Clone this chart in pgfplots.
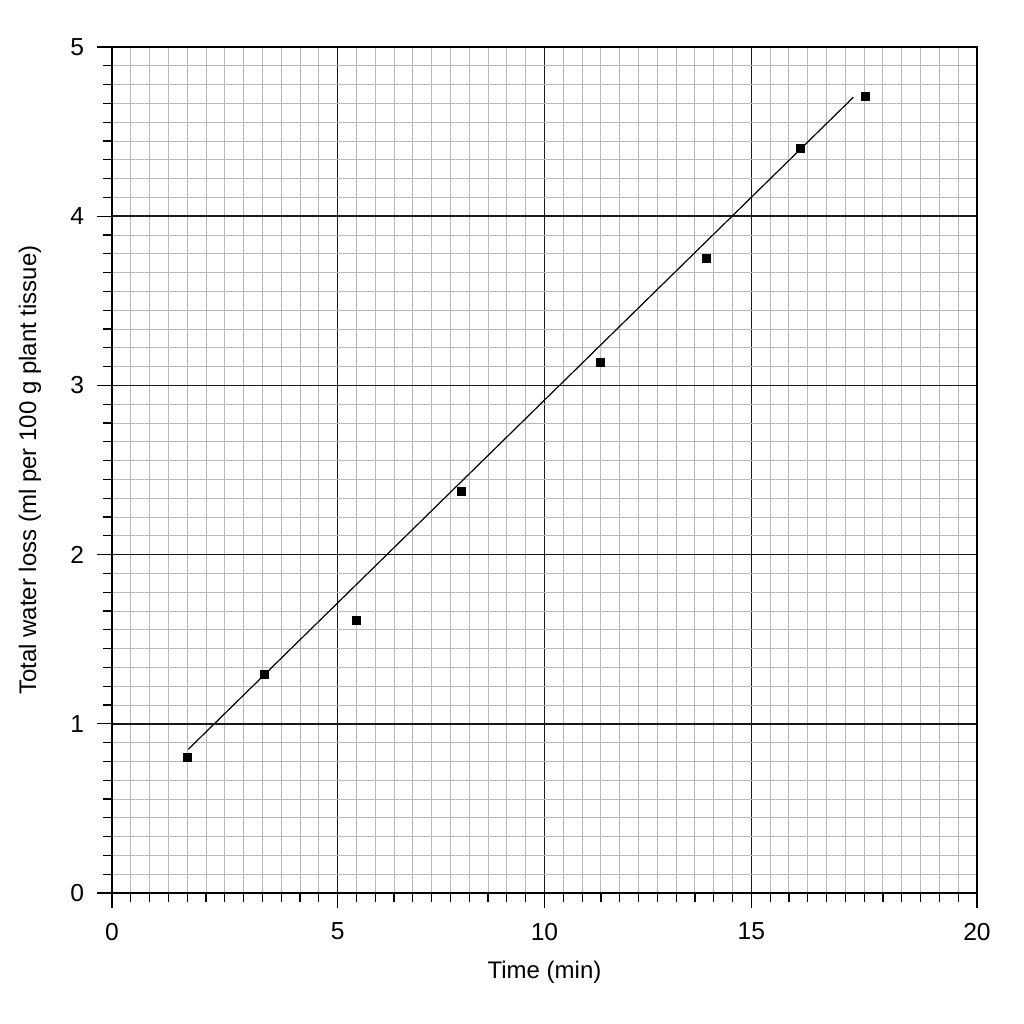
\documentclass[border=0pt]{standalone}
\usepackage{fontspec}
\setmainfont{Liberation Sans}
\usepackage{pgfplots}
\pgfplotsset{compat=1.18}
\begin{document}
\begin{tikzpicture}
\begin{axis}[
  scale only axis,
  width=432.5pt, height=423pt,
  xmin=0, xmax=20, ymin=0, ymax=5,
  % the printed grid is uneven: 12 cells for 0-5 and 15-20, 11 cells for 5-10 and 10-15
  x coord trafo/.code={\pgfmathparse{#1<=5 ? #1*2.4 : (#1<=15 ? 12+(#1-5)*2.2 : 34+(#1-15)*2.4)}},
  x coord inv trafo/.code={\pgfmathparse{#1<=12 ? #1/2.4 : (#1<=34 ? 5+(#1-12)/2.2 : 15+(#1-34)/2.4)}},
  xtick={0,5,10,15,20},
  xticklabels={0,5,10,15,20},
  minor xtick={0.41667,0.83333,1.25,1.66667,2.08333,2.5,2.91667,3.33333,3.75,4.16667,4.58333,
    5.45455,5.90909,6.36364,6.81818,7.27273,7.72727,8.18182,8.63636,9.09091,9.54545,
    10.45455,10.90909,11.36364,11.81818,12.27273,12.72727,13.18182,13.63636,14.09091,14.54545,
    15.41667,15.83333,16.25,16.66667,17.08333,17.5,17.91667,18.33333,18.75,19.16667,19.58333},
  ytick={0,1,2,3,4,5},
  minor y tick num=8,
  /pgf/number format/assume math mode=true,
  grid=both,
  major grid style={black!90, line width=0.75pt},
  minor grid style={gray!55, line width=0.5pt},
  tick align=outside,
  tick pos=left,
  major tick length=7.5pt,
  minor tick length=4.5pt,
  every tick/.style={black, line width=0.6pt},
  axis line style={black, line width=1pt},
  tick label style={font=\fontsize{12.3}{14}\selectfont},
  xticklabel shift=4pt,
  yticklabel shift=3pt,
  label style={font=\fontsize{12}{14}\selectfont},
  xlabel={Time (min)},
  ylabel={Total water loss (ml per 100 g plant tissue)},
  xlabel style={at={(axis description cs:0.5,-0.0934)}, anchor=center},
  ylabel style={at={(axis description cs:-0.0948,0.5)}, anchor=center},
]
\addplot[only marks, mark=square*, mark size=2pt, black] coordinates {
  (1.68,0.802) (3.375,1.294) (5.445,1.612) (8.0,2.374)
  (11.34,3.134) (13.92,3.749) (16.08,4.403) (17.52,4.710)
};
\addplot[black, line width=0.6pt] coordinates {(1.69,0.849) (17.26,4.703)};
\coordinate (sw) at (rel axis cs:0,0);
\end{axis}
\pgfresetboundingbox
\path[use as bounding box] (sw) ++(-56pt,-65.5pt) rectangle ++(512pt,512pt);
\end{tikzpicture}
\end{document}
